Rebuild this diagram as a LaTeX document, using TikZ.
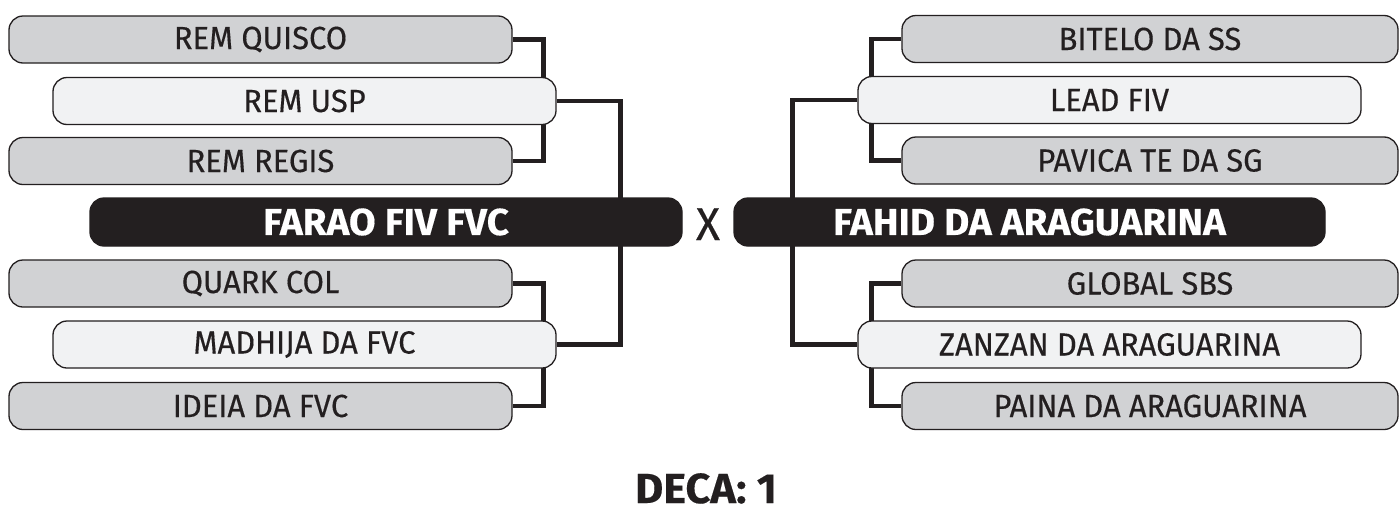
\documentclass[tikz,border=0pt]{standalone}
\usepackage{fontspec}
\setmainfont{Fira Sans}[FakeStretch=0.965, FakeBold=0.35, BoldFeatures={FakeStretch=1.03}]
\usetikzlibrary{backgrounds}
\definecolor{boxgray}{HTML}{D1D2D4}
\definecolor{boxlight}{HTML}{F1F2F3}
\definecolor{ink}{HTML}{231F20}
\tikzset{
  basebox/.style={draw=ink, line width=1.3pt, rounded corners=14pt, inner sep=0pt, minimum height=47pt, text=ink, font=\fontsize{32}{36}\selectfont},
  graybox/.style={basebox, fill=boxgray, minimum width=503pt},
  lightbox/.style={basebox, fill=boxlight, minimum width=503pt},
  darkbox/.style={basebox, fill=ink, text=white, minimum height=48pt, font=\bfseries\fontsize{37.5}{40}\selectfont},
  conn/.style={draw=ink, line width=4.5pt, line join=miter}
}
\begin{document}
\begin{tikzpicture}[x=1pt, y=-1pt]
\useasboundingbox (0,0) rectangle (1400,509);
% left side
\node[graybox] (q1) at (260.5,39.5) {REM QUISCO};
\node[lightbox] (q2) at (304.5,101) {REM USP};
\node[graybox] (q3) at (260.5,161) {REM REGIS};
\node[darkbox, minimum width=592pt] (fa) at (386,222) {FARAO FIV FVC};
\node[graybox] (q4) at (260.5,283.5) {QUARK COL};
\node[lightbox] (q5) at (304.5,344.5) {MADHIJA DA FVC};
\node[graybox] (q6) at (260.5,406) {IDEIA DA FVC};
% right side
\node[graybox, minimum width=496pt] (r1) at (1150,39) {BITELO DA SS};
\node[lightbox] (r2) at (1109.5,100) {LEAD FIV};
\node[graybox, minimum width=496pt] (r3) at (1150,160.5) {PAVICA TE DA SG};
\node[darkbox, minimum width=591pt] (fb) at (1029.5,222) {FAHID DA ARAGUARINA};
\node[graybox, minimum width=496pt] (r4) at (1150,283.5) {GLOBAL SBS};
\node[lightbox] (r5) at (1109.5,344.5) {ZANZAN DA ARAGUARINA};
\node[graybox, minimum width=496pt] (r6) at (1150,406) {PAINA DA ARAGUARINA};
% centre texts
\node[text=ink, font=\fontsize{46}{48}\selectfont, inner sep=0pt, anchor=base] (vs) at (708,240) {X};
\node[text=ink, font=\bfseries\fontsize{42}{44}\selectfont, inner sep=0pt, text depth=0pt, anchor=base] (deca) at (706,503) {DECA: 1};
% connectors
\begin{pgfonlayer}{background}
\fill[white] (0,0) rectangle (1400,509);
\draw[conn] (q1.east) -- ++(31,0) |- (q3.east);
\draw[conn] (q4.east) -- ++(31,0) |- (q6.east);
\draw[conn] (q2.east) -- ++(64,0) |- (q5.east);
\draw[conn] (r1.west) -- ++(-30,0) |- (r3.west);
\draw[conn] (r4.west) -- ++(-30,0) |- (r6.west);
\draw[conn] (r2.west) -- ++(-65,0) |- (r5.west);
\end{pgfonlayer}
\end{tikzpicture}
\end{document}
